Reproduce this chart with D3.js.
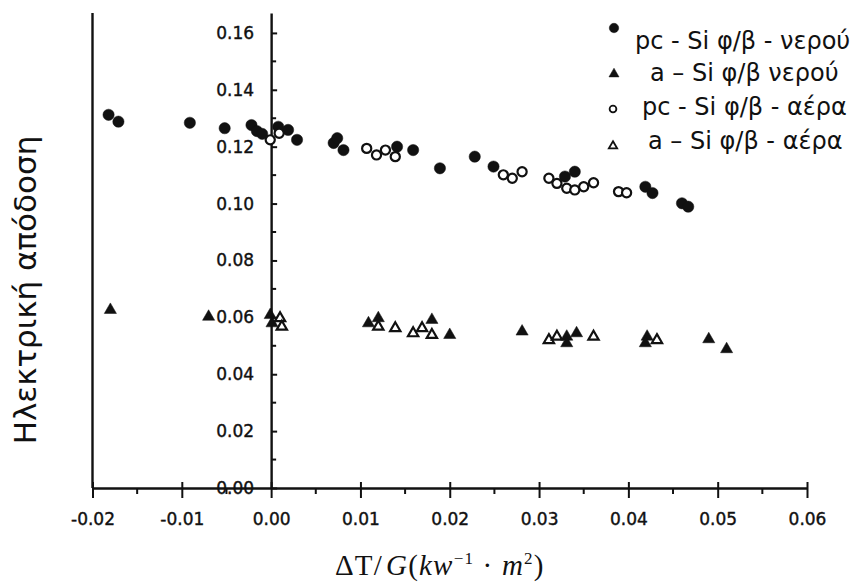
<!DOCTYPE html>
<html>
<head>
<meta charset="utf-8">
<script src="https://cdn.jsdelivr.net/npm/d3@7"></script>
<style>
    body { margin: 0; background: #fff; }
    svg { display: block; }
</style>
</head>
<body>
<svg width="866" height="584"></svg>
<script>
// pc - Si water cooled (filled circles)
const pcWaterX = [-0.0182, -0.0171, -0.0091, -0.0052, -0.0022, -0.0016, -0.0010, 0.0008, 0.0019, 0.0029, 0.0070, 0.0074, 0.0081, 0.0141, 0.0159, 0.0189, 0.0228, 0.0249, 0.0329, 0.0340, 0.0419, 0.0427, 0.0460, 0.0467];
const pcWaterY = [0.1312, 0.1288, 0.1284, 0.1265, 0.1276, 0.1255, 0.1245, 0.1270, 0.1259, 0.1224, 0.1213, 0.1230, 0.1188, 0.1200, 0.1188, 0.1124, 0.1165, 0.1130, 0.1095, 0.1112, 0.1059, 0.1037, 0.1001, 0.0989];

// a - Si water cooled (filled triangles)
const aWaterX = [-0.0180, -0.0070, -0.0001, 0.0001, 0.0109, 0.0120, 0.0180, 0.0200, 0.0281, 0.0331, 0.0331, 0.0342, 0.0421, 0.0419, 0.0490, 0.0510];
const aWaterY = [0.0626, 0.0602, 0.0608, 0.0579, 0.0579, 0.0597, 0.0591, 0.0538, 0.0550, 0.0532, 0.0509, 0.0544, 0.0532, 0.0509, 0.0523, 0.0488];

// pc - Si air cooled (open circles)
const pcAirX = [-0.0001, 0.0009, 0.0107, 0.0118, 0.0128, 0.0139, 0.0260, 0.0270, 0.0281, 0.0311, 0.0320, 0.0331, 0.0340, 0.0350, 0.0361, 0.0389, 0.0398];
const pcAirY = [0.1224, 0.1247, 0.1194, 0.1171, 0.1188, 0.1165, 0.1101, 0.1089, 0.1112, 0.1089, 0.1071, 0.1054, 0.1048, 0.1059, 0.1073, 0.1042, 0.1038];

// a - Si air cooled (open triangles)
const aAirX = [0.0010, 0.0012, 0.0120, 0.0139, 0.0159, 0.0169, 0.0180, 0.0311, 0.0320, 0.0361, 0.0432];
const aAirY = [0.0597, 0.0567, 0.0567, 0.0562, 0.0544, 0.0562, 0.0538, 0.0520, 0.0532, 0.0532, 0.0520];

const xTicks = [-0.02, -0.01, 0.00, 0.01, 0.02, 0.03, 0.04, 0.05, 0.06];
const xMinor = [-0.015, -0.005, 0.005, 0.015, 0.025, 0.035, 0.045, 0.055];
const yTicks = [0.00, 0.02, 0.04, 0.06, 0.08, 0.10, 0.12, 0.14, 0.16];
const yMinor = [0.01, 0.03, 0.05, 0.07, 0.09, 0.11, 0.13, 0.15];

const legendLabels = ['pc - Si φ/β - νερού', 'a \u2013 Si φ/β νερού', 'pc - Si φ/β - αέρα', 'a \u2013 Si φ/β - αέρα'];

const svg = d3.select('svg');
const tickFont = 'DejaVu Sans, sans-serif';
const ink = '#111';

// Scales
const xScale = d3.scaleLinear().domain([-0.02, 0.06]).range([92.5, 807]);
const yScale = d3.scaleLinear().domain([0, 0.167]).range([488, 13]);

const x0 = xScale(0);
const yBottom = yScale(0);

// Left frame line at x = -0.02
svg.append('line')
    .attr('x1', xScale(-0.02))
    .attr('x2', xScale(-0.02))
    .attr('y1', yScale(0.167))
    .attr('y2', yBottom)
    .attr('stroke', ink)
    .attr('stroke-width', 2.4);

// X axis
const xAxis = svg.append('g')
    .attr('transform', `translate(0,${yBottom})`)
    .call(d3.axisBottom(xScale)
        .tickValues(xTicks)
        .tickSize(10)
        .tickSizeOuter(0));

xAxis.select('.domain').attr('stroke', ink).attr('stroke-width', 2.4);
xAxis.selectAll('.tick line')
    .attr('y1', -6)
    .attr('stroke', ink)
    .attr('stroke-width', 2);
xAxis.selectAll('.tick text')
    .attr('y', 37)
    .attr('dy', 0)
    .attr('fill', ink)
    .style('font-family', tickFont)
    .style('font-size', '17px')
    .style('stroke', ink)
    .style('stroke-width', 0.4)
    .text(d => d3.format('.2f')(d).replace('\u2212', '-'));

svg.append('g')
    .selectAll('line')
    .data(xMinor)
    .enter()
    .append('line')
    .attr('x1', d => xScale(d))
    .attr('x2', d => xScale(d))
    .attr('y1', yBottom)
    .attr('y2', yBottom + 6)
    .attr('stroke', ink)
    .attr('stroke-width', 2);

// Y axis through x = 0
const yAxis = svg.append('g')
    .attr('transform', `translate(${x0},0)`)
    .call(d3.axisLeft(yScale)
        .tickValues(yTicks)
        .tickSize(5)
        .tickSizeOuter(0)
        .tickFormat(d3.format('.2f')));

yAxis.select('.domain').attr('stroke', ink).attr('stroke-width', 2.4);
yAxis.selectAll('.tick line')
    .attr('x2', 6)
    .attr('stroke', ink)
    .attr('stroke-width', 2);
yAxis.selectAll('.tick text')
    .attr('x', -17)
    .attr('fill', ink)
    .style('font-family', tickFont)
    .style('font-size', '17px')
    .style('stroke', ink)
    .style('stroke-width', 0.4);

svg.append('g')
    .selectAll('line')
    .data(yMinor)
    .enter()
    .append('line')
    .attr('x1', x0)
    .attr('x2', x0 + 5)
    .attr('y1', d => yScale(d))
    .attr('y2', d => yScale(d))
    .attr('stroke', ink)
    .attr('stroke-width', 2);

// Series
const series = [
    { xs: pcWaterX, ys: pcWaterY, type: d3.symbolCircle, size: 100, filled: true },
    { xs: pcAirX, ys: pcAirY, type: d3.symbolCircle, size: 66, filled: false },
    { xs: aWaterX, ys: aWaterY, type: d3.symbolTriangle, size: 64, filled: true },
    { xs: aAirX, ys: aAirY, type: d3.symbolTriangle, size: 46, filled: false }
];

series.forEach(function(s) {
    svg.append('g')
        .selectAll('path')
        .data(s.xs.map((x, i) => [x, s.ys[i]]))
        .enter()
        .append('path')
        .attr('transform', d => `translate(${xScale(d[0])},${yScale(d[1])})`)
        .attr('d', d3.symbol().type(s.type).size(s.size))
        .attr('fill', s.filled ? ink : '#fff')
        .attr('stroke', ink)
        .attr('stroke-width', s.filled ? 0.5 : 2.2);
});

// Legend
const legendRows = [
    { mx: 614, my: 28, tx: 635, ty: 49, size: 70 },
    { mx: 614, my: 74, tx: 650, ty: 81, size: 44 },
    { mx: 613, my: 109, tx: 642, ty: 115, size: 36 },
    { mx: 613, my: 146, tx: 648, ty: 149, size: 30 }
];

const legend = svg.append('g');
legendRows.forEach(function(r, i) {
    const s = series[[0, 2, 1, 3][i]];
    legend.append('path')
        .attr('transform', `translate(${r.mx},${r.my})`)
        .attr('d', d3.symbol().type(s.type).size(r.size))
        .attr('fill', s.filled ? ink : '#fff')
        .attr('stroke', ink)
        .attr('stroke-width', s.filled ? 0.5 : 1.8);
    legend.append('text')
        .attr('x', r.tx)
        .attr('y', r.ty)
        .attr('fill', ink)
        .style('font-family', tickFont)
        .style('font-size', '24px')
        .text(legendLabels[i]);
});

// Axis titles
svg.append('text')
    .attr('transform', 'translate(36,290) rotate(-90)')
    .attr('text-anchor', 'middle')
    .attr('fill', ink)
    .style('font-family', tickFont)
    .style('font-size', '31px')
    .text('Ηλεκτρική απόδοση');

const xTitle = svg.append('text')
    .attr('x', 335)
    .attr('y', 575)
    .attr('fill', ink)
    .style('font-family', 'Liberation Serif, serif')
    .style('font-size', '29px')
    .style('letter-spacing', '1.2px');

xTitle.append('tspan').text('ΔT/');
xTitle.append('tspan').style('font-style', 'italic').attr('dx', 3).text('G');
xTitle.append('tspan').text('(');
xTitle.append('tspan').style('font-style', 'italic').text('kw');
xTitle.append('tspan').attr('dy', -11).style('font-size', '17px').text('\u22121');
xTitle.append('tspan').attr('dy', 11).text(' · ');
xTitle.append('tspan').style('font-style', 'italic').text('m');
xTitle.append('tspan').attr('dy', -11).style('font-size', '17px').text('2');
xTitle.append('tspan').attr('dy', 11).text(')');
</script>
</body>
</html>
